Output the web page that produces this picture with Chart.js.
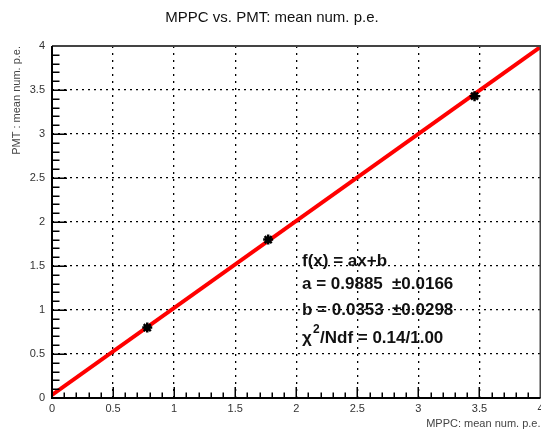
<!DOCTYPE html>
<html>
<head>
<meta charset="utf-8">
<script src="https://cdn.jsdelivr.net/npm/chart.js@4"></script>
<style>
  html, body { margin: 0; padding: 0; overflow: hidden; background: #fff; }
  canvas { display: block; }
</style>
</head>
<body>
<canvas id="c" width="548" height="431"></canvas>
<script>
// Measured mean number of photo-electrons
const mppcMean = [0.78, 1.77, 3.46];
const pmtMean  = [0.80, 1.80, 3.43];

// Linear fit f(x) = a*x + b
const fitPar = [0.9885, 0.0353];   // a, b
const fitErr = [0.0166, 0.0298];   // errors on a, b
const fitChi2 = 0.14;
const fitNdf = 1.00;

// Axis ranges and tick spacing
const xRange = [0, 4];
const yRange = [0, 4];
const majorStep = 0.5;
const minorStep = 0.1;

const FONT = '"Liberation Sans", Arial, Helvetica, sans-serif';

const points = mppcMean.map((x, i) => ({ x: x, y: pmtMean[i] }));
const fitLine = xRange.map(x => ({ x: x, y: fitPar[0] * x + fitPar[1] }));

// tick labels without trailing zeros: 0, 0.5, 1, 1.5 ...
const tickLabel = v => String(Math.round(v * 100) / 100);

// Inner tick marks and frame, drawn the ROOT way
const frameTicks = {
  id: 'frameTicks',
  afterDatasetsDraw(chart) {
    const { ctx, chartArea: ca } = chart;
    const xs = chart.scales.x, ys = chart.scales.y;
    const nx = Math.round((xRange[1] - xRange[0]) / minorStep);
    const ny = Math.round((yRange[1] - yRange[0]) / minorStep);
    const perMajor = Math.round(majorStep / minorStep);
    ctx.save();
    ctx.strokeStyle = '#000';
    ctx.lineWidth = 1.5;
    ctx.beginPath();
    for (let i = 0; i <= nx; i++) {
      const px = Math.round(xs.getPixelForValue(xRange[0] + i * minorStep)) + 0.25;
      const len = i % perMajor === 0 ? 11 : 5.5;
      ctx.moveTo(px, ca.bottom);
      ctx.lineTo(px, ca.bottom - len);
    }
    for (let i = 0; i <= ny; i++) {
      const py = Math.round(ys.getPixelForValue(yRange[0] + i * minorStep)) + 0.25;
      const len = i % perMajor === 0 ? 15 : 7.5;
      ctx.moveTo(ca.left, py);
      ctx.lineTo(ca.left + len, py);
    }
    ctx.stroke();

    // frame
    ctx.lineWidth = 2;
    ctx.strokeStyle = '#444';
    ctx.beginPath();
    ctx.moveTo(ca.left, ca.top);
    ctx.lineTo(ca.right, ca.top);
    ctx.lineTo(ca.right, ca.bottom);
    ctx.stroke();
    ctx.strokeStyle = '#000';
    ctx.beginPath();
    ctx.moveTo(ca.left, ca.top);
    ctx.lineTo(ca.left, ca.bottom);
    ctx.lineTo(ca.right, ca.bottom);
    ctx.stroke();
    ctx.restore();
  },
  afterDraw(chart) {
    // fit statistics
    const { ctx } = chart;
    const x0 = 302, xErr = 392;
    const big = 'bold 17px ' + FONT;
    ctx.save();
    ctx.fillStyle = '#111';
    ctx.textBaseline = 'alphabetic';
    ctx.textAlign = 'left';
    ctx.font = big;
    ctx.fillText('f(x) = ax+b', x0, 266);
    ctx.fillText('a = ' + fitPar[0].toFixed(4), x0, 289);
    ctx.fillText('\u00b1' + fitErr[0].toFixed(4), xErr, 289);
    ctx.fillText('b = ' + fitPar[1].toFixed(4), x0, 315);
    ctx.fillText('\u00b1' + fitErr[1].toFixed(4), xErr, 315);
    ctx.fillText('\u03c7', x0, 343);
    ctx.font = 'bold 12px ' + FONT;
    ctx.fillText('2', x0 + 11, 333);
    ctx.font = big;
    ctx.fillText('/Ndf = ' + fitChi2.toFixed(2) + '/' + fitNdf.toFixed(2), x0 + 18, 343);
    ctx.restore();
  }
};

const tickFont = { family: FONT, size: 11 };
const titleFont = { family: FONT, size: 11 };

new Chart(document.getElementById('c'), {
  type: 'scatter',
  data: {
    datasets: [
      {
        label: 'data',
        data: points,
        order: 0,
        pointStyle: 'star',
        pointRadius: 5,
        pointBorderWidth: 2.5,
        borderColor: '#000',
        backgroundColor: '#000',
        showLine: false
      },
      {
        label: 'fit',
        type: 'line',
        data: fitLine,
        order: 1,
        borderColor: '#ff0000',
        borderWidth: 4,
        pointRadius: 0,
        fill: false,
        tension: 0
      }
    ]
  },
  options: {
    responsive: false,
    animation: false,
    events: [],
    layout: { padding: { left: 0, right: 4, top: 0, bottom: 0 } },
    plugins: {
      legend: { display: false },
      tooltip: { enabled: false },
      title: {
        display: true,
        text: 'MPPC vs. PMT: mean num. p.e.',
        color: '#111',
        font: { family: FONT, size: 15, weight: 'normal' },
        padding: { top: 9, bottom: 19 }
      }
    },
    scales: {
      x: {
        type: 'linear',
        min: xRange[0],
        max: xRange[1],
        grid: { color: '#000', lineWidth: 1.3, drawTicks: false },
        border: { display: false, dash: [2, 5] },
        ticks: {
          stepSize: majorStep,
          autoSkip: false,
          maxRotation: 0,
          padding: 4,
          color: '#333',
          font: tickFont,
          callback: tickLabel
        },
        title: {
          display: true,
          text: 'MPPC: mean num. p.e.',
          align: 'end',
          color: '#444',
          font: titleFont,
          padding: { top: 0, bottom: 0 }
        },
        afterFit(s) { s.height = 33; s.paddingLeft = 0; s.paddingRight = 0; }
      },
      y: {
        type: 'linear',
        min: yRange[0],
        max: yRange[1],
        grid: { color: '#000', lineWidth: 1.3, drawTicks: false },
        border: { display: false, dash: [2, 4] },
        ticks: {
          stepSize: majorStep,
          autoSkip: false,
          padding: 7,
          color: '#333',
          font: tickFont,
          callback: tickLabel
        },
        title: {
          display: true,
          text: 'PMT : mean num. p.e.',
          align: 'end',
          color: '#444',
          font: titleFont,
          padding: { top: 10, bottom: 0 }
        },
        afterFit(s) { s.width = 52; s.paddingTop = 0; s.paddingBottom = 0; }
      }
    }
  },
  plugins: [frameTicks]
});
</script>
</body>
</html>
